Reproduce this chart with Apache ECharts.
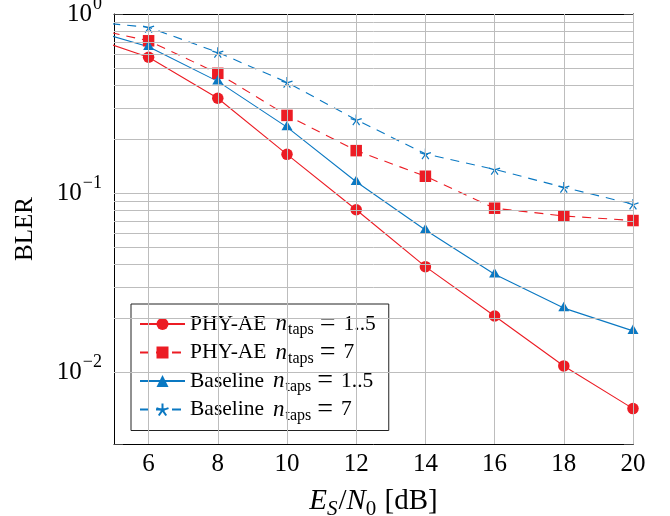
<!DOCTYPE html>
<html>
<head>
<meta charset="utf-8">
<script src="https://cdn.jsdelivr.net/npm/echarts@6/dist/echarts.min.js"></script>
<style>
  html, body { margin: 0; padding: 0; background: #fff; }
  #chart { width: 670px; height: 516px; }
</style>
</head>
<body>
<div id="chart"></div>
<script>
// Es/N0 sweep in dB
const snr = [4, 6, 8, 10, 12, 14, 16, 18, 20];

// Block error rate per configuration
const phyAeTaps1to5    = [0.777, 0.574, 0.339, 0.165, 0.081, 0.039, 0.0207, 0.0109, 0.0063];
const phyAeTaps7       = [0.860, 0.709, 0.467, 0.272, 0.173, 0.1245, 0.0826, 0.0748, 0.0705];
const baselineTaps1to5 = [0.850, 0.657, 0.421, 0.234, 0.116, 0.0624, 0.0354, 0.0229, 0.0171];
const baselineTaps7    = [0.918, 0.843, 0.611, 0.416, 0.257, 0.166, 0.136, 0.108, 0.087];

// Axis ticks and grid values
const xTicks = [6, 8, 10, 12, 14, 16, 18, 20];
const yGridValues = [
  0.005, 0.006, 0.007, 0.008, 0.009,
  0.01, 0.02, 0.03, 0.04, 0.05, 0.06, 0.07, 0.08, 0.09,
  0.1, 0.2, 0.3, 0.4, 0.5, 0.6, 0.7, 0.8, 0.9
];

const RED = '#ec1c24';
const BLUE = '#0a78c2';
const GRID = '#bdbdbd';
const FONT = 'Liberation Serif';
const DASH = [9, 7];

// five-spoke star drawn as strokes
const STAR = 'path://M0,-100L0,0M95.1,-30.9L0,0M58.8,80.9L0,0M-58.8,80.9L0,0M-95.1,-30.9L0,0';

const pairs = (ys) => snr.map((x, i) => [x, ys[i]]);

function lineSeries(name, ys, color, dashed, symbol, size, extra) {
  return Object.assign({
    name: name,
    type: 'line',
    data: pairs(ys),
    z: 3,
    clip: true,
    symbol: symbol,
    symbolSize: size,
    showAllSymbol: true,
    lineStyle: { color: color, width: 1.1, type: dashed ? DASH : 'solid' },
    itemStyle: { color: color },
    emphasis: { disabled: true }
  }, extra || {});
}

const seriesNames = ['PHY-AE|1..5', 'PHY-AE|7', 'Baseline|1..5', 'Baseline|7'];

const chart = echarts.init(document.getElementById('chart'), null, { renderer: 'canvas' });

chart.setOption({
  animation: false,
  backgroundColor: '#fff',
  grid: { left: 114, right: 37, top: 14, bottom: 72, containLabel: false, outerBoundsMode: 'none' },
  xAxis: [
    {
      type: 'value',
      min: 5, max: 20,
      name: '{i|E}{si|S}{t|/}{i|N}{s|0}{t| [dB]}',
      nameLocation: 'middle',
      nameGap: 38,
      nameTextStyle: {
        fontFamily: FONT, color: '#000',
        rich: {
          i: { fontFamily: FONT, fontStyle: 'italic', fontSize: 29, lineHeight: 28, color: '#000' },
          t: { fontFamily: FONT, fontSize: 29, lineHeight: 28, color: '#000' },
          si: { fontFamily: FONT, fontStyle: 'italic', fontSize: 21, lineHeight: 11, padding: [17, 1, 0, 0], color: '#000' },
          s: { fontFamily: FONT, fontSize: 21, lineHeight: 11, padding: [17, 1, 0, 0], color: '#000' }
        }
      },
      axisLine: { show: true, onZero: false, lineStyle: { color: '#000', width: 1 } },
      axisTick: { show: true, inside: true, length: 9, customValues: xTicks, lineStyle: { color: '#444' } },
      axisLabel: { show: true, margin: 8, customValues: xTicks, fontFamily: FONT, fontSize: 25, color: '#000' },
      splitLine: { show: false }
    },
    {
      type: 'value',
      min: 5, max: 20,
      position: 'top',
      axisLine: { show: true, onZero: false, lineStyle: { color: '#000', width: 1 } },
      axisTick: { show: true, inside: true, length: 9, customValues: xTicks, lineStyle: { color: '#444' } },
      axisLabel: { show: false },
      splitLine: { show: false }
    }
  ],
  yAxis: [
    {
      type: 'log',
      logBase: 10,
      min: 0.004, max: 1,
      name: 'BLER',
      nameLocation: 'middle',
      nameRotate: 90,
      nameGap: 76,
      nameTextStyle: { fontFamily: FONT, fontSize: 25, color: '#000' },
      axisLine: { show: true, onZero: false, lineStyle: { color: '#000', width: 1 } },
      axisTick: { show: true, inside: true, length: 9, lineStyle: { color: '#444' } },
      axisLabel: {
        show: true,
        margin: 12,
        fontFamily: FONT,
        formatter: function (v) {
          const e = Math.log10(v);
          if (Math.abs(e - Math.round(e)) > 1e-6) return '';
          const k = Math.round(e);
          return '{b|10}{p|' + (k < 0 ? '\u2212' + (-k) : k) + '}';
        },
        rich: {
          b: { fontFamily: FONT, fontSize: 25, lineHeight: 26, color: '#000' },
          p: { fontFamily: FONT, fontSize: 18, lineHeight: 12, padding: [0, 0, 20, 1], color: '#000' }
        }
      },
      splitLine: { show: true, lineStyle: { color: GRID, width: 1 } }
    },
    {
      type: 'log',
      logBase: 10,
      min: 0.004, max: 1,
      position: 'right',
      axisLine: { show: true, onZero: false, lineStyle: { color: '#000', width: 1 } },
      axisTick: { show: true, inside: true, length: 9, lineStyle: { color: '#444' } },
      axisLabel: { show: false },
      splitLine: { show: false }
    }
  ],
  legend: {
    left: 131,
    top: 304,
    orient: 'vertical',
    data: seriesNames,
    itemWidth: 45,
    itemHeight: 15,
    itemGap: 0.5,
    padding: [6, 13, 7, 8],
    backgroundColor: '#fff',
    borderColor: '#222',
    borderWidth: 1,
    borderRadius: 0,
    selectedMode: false,
    formatter: function (name) {
      const parts = name.split('|');
      return '{t|' + parts[0] + '}{n|n}{s|taps}{m|=}{t|' + parts[1] + '}';
    },
    textStyle: {
      fontFamily: FONT,
      fontSize: 21.5,
      color: '#000',
      rich: {
        t: { fontFamily: FONT, fontSize: 21.5, lineHeight: 24, color: '#000' },
        m: { fontFamily: FONT, fontSize: 28, lineHeight: 24, padding: [0, 8, 0, 6], color: '#000' },
        n: { fontFamily: FONT, fontStyle: 'italic', fontSize: 23, lineHeight: 24, padding: [0, 0, 0, 9], color: '#000' },
        s: { fontFamily: FONT, fontSize: 16, lineHeight: 12, padding: [12, 0, 0, 1], color: '#000' }
      }
    }
  },
  series: [
    {
      name: 'grid',
      type: 'line',
      data: [],
      z: 1,
      silent: true,
      markLine: {
        silent: true,
        symbol: ['none', 'none'],
        label: { show: false },
        animation: false,
        lineStyle: { color: GRID, width: 1, type: 'solid' },
        emphasis: { disabled: true },
        data: xTicks.map(v => ({ xAxis: v })).concat(yGridValues.map(v => ({ yAxis: v })))
      }
    },
    lineSeries(seriesNames[0], phyAeTaps1to5, RED, false, 'circle', 11.5),
    lineSeries(seriesNames[1], phyAeTaps7, RED, true, 'rect', 11.5),
    lineSeries(seriesNames[2], baselineTaps1to5, BLUE, false, 'triangle', [11, 9.5], { symbolOffset: [0, -1.5] }),
    lineSeries(seriesNames[3], baselineTaps7, BLUE, true, STAR, 11, {
      symbolKeepAspect: true,
      itemStyle: { color: 'none', borderColor: BLUE, borderWidth: 1.2 }
    })
  ]
});
</script>
</body>
</html>
